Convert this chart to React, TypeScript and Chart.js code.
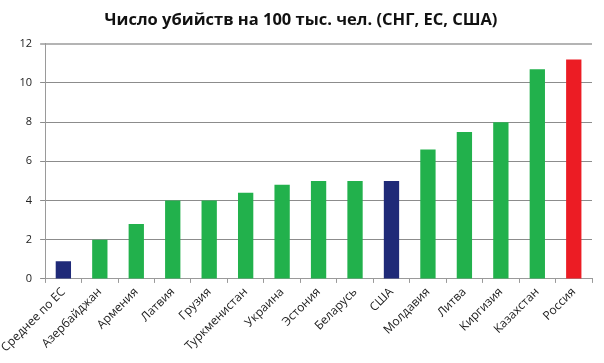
import React, { useEffect, useRef } from "react";
import { Chart, registerables } from "chart.js";

Chart.register(...registerables);

const categories = [
  "Среднее по ЕС",
  "Азербайджан",
  "Армения",
  "Латвия",
  "Грузия",
  "Туркменистан",
  "Украина",
  "Эстония",
  "Беларусь",
  "США",
  "Молдавия",
  "Литва",
  "Киргизия",
  "Казахстан",
  "Россия",
];
const values = [0.9, 2, 2.8, 4, 4, 4.4, 4.8, 5, 5, 5, 6.6, 7.5, 8, 10.7, 11.2];
const barColors = [
  "#1f2a78",
  "#22b14c", "#22b14c", "#22b14c", "#22b14c", "#22b14c", "#22b14c", "#22b14c", "#22b14c",
  "#1f2a78",
  "#22b14c", "#22b14c", "#22b14c", "#22b14c",
  "#ec1c24",
];
const titleText = "Число убийств на 100 тыс. чел. (СНГ, ЕС, США)";

export default function App() {
  const ref = useRef<HTMLCanvasElement | null>(null);
  useEffect(() => {
    if (!ref.current) return;
    const chart = new Chart(ref.current, {
      type: "bar",
      data: {
        labels: categories,
        datasets: [
          {
            data: values,
            backgroundColor: barColors,
            barPercentage: 0.42,
            categoryPercentage: 1,
          },
        ],
      },
      options: {
        animation: false,
        responsive: false,
        maintainAspectRatio: false,
        layout: { padding: { left: 10, right: 12, top: 4, bottom: 6 } },
        plugins: {
          legend: { display: false },
          tooltip: { enabled: false },
          title: {
            display: true,
            text: titleText,
            color: "#111",
            font: { family: "Open Sans", size: 16.5, weight: "bold" },
            padding: { top: 6, bottom: 14 },
          },
        },
        scales: {
          x: {
            offset: true,
            grid: {
              display: true,
              drawOnChartArea: false,
              drawTicks: true,
              tickLength: 4,
              color: "#9a9a9a",
              offset: true,
            },
            border: { display: true, color: "#9a9a9a" },
            ticks: {
              minRotation: 45,
              maxRotation: 45,
              color: "#222",
              font: { family: "Open Sans", size: 12 },
              padding: 2,
              autoSkip: false,
            },
          },
          y: {
            min: 0,
            max: 12,
            grid: {
              color: (c: any) => (c.tick && c.tick.value === 12 ? "#b4b4b4" : "#8c8c8c"),
              lineWidth: (c: any) => (c.tick && c.tick.value === 12 ? 2 : 1),
              tickLength: 5,
            },
            border: { display: true, color: "#9a9a9a" },
            ticks: {
              stepSize: 2,
              color: "#222",
              font: { family: "Open Sans", size: 11 },
              padding: 8,
            },
          },
        },
      },
    });
    return () => chart.destroy();
  }, []);
  return (
    <div style={{ position: "fixed", left: 0, top: 0, width: 604, height: 363, background: "#fff" }}>
      <canvas ref={ref} width={604} height={363} />
    </div>
  );
}
